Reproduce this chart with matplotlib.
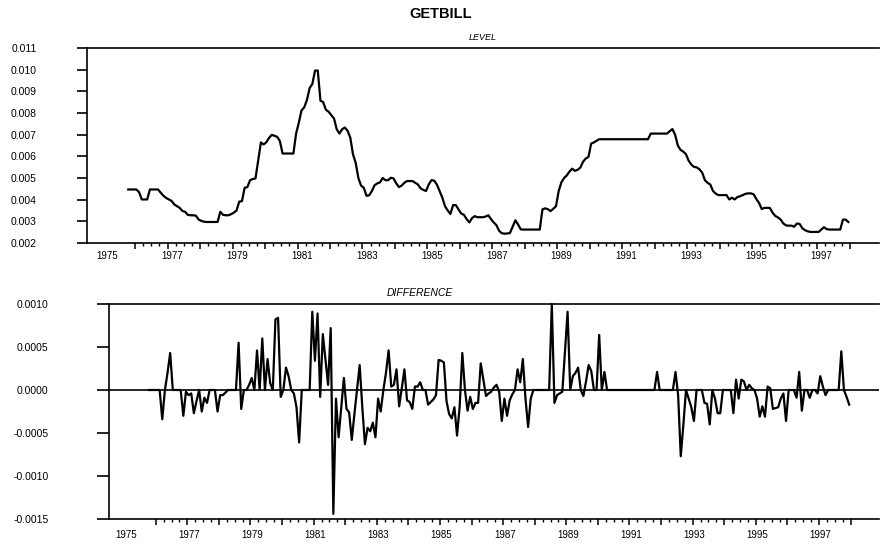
import numpy as np
import matplotlib
matplotlib.use("Agg")
import matplotlib.pyplot as plt
from matplotlib.ticker import FixedLocator, FormatStrFormatter, NullFormatter
from matplotlib.transforms import blended_transform_factory

plt.rcParams['font.family'] = ['Liberation Sans', 'DejaVu Sans']

# ---------------- data (monthly, first obs ~ late 1975) ----------------
start_year = 1975.79
level = [
    0.00447, 0.00447, 0.00447, 0.00447, 0.00435, 0.00401, 0.00401, 0.00401, 0.00447, 0.00447, 0.00447, 0.00447,
    0.00432, 0.00418, 0.00408, 0.00401, 0.00394, 0.00378, 0.00370, 0.00362, 0.00348, 0.00344, 0.00330, 0.00328,
    0.00328, 0.00326, 0.00308, 0.00302, 0.00298, 0.00297, 0.00297, 0.00297, 0.00297, 0.00297, 0.00344, 0.00330,
    0.00328, 0.00328, 0.00333, 0.00340, 0.00350, 0.00391, 0.00393, 0.00455, 0.00458, 0.00490, 0.00495, 0.00498,
    0.00580, 0.00664, 0.00655, 0.00665, 0.00685, 0.00699, 0.00695, 0.00690, 0.00671, 0.00613, 0.00613, 0.00613,
    0.00613, 0.00613, 0.00705, 0.00755, 0.00812, 0.00826, 0.00860, 0.00915, 0.00934, 0.00996, 0.00996, 0.00857,
    0.00850, 0.00815, 0.00806, 0.00790, 0.00775, 0.00725, 0.00705, 0.00725, 0.00733, 0.00718, 0.00687, 0.00610,
    0.00570, 0.00500, 0.00465, 0.00455, 0.00418, 0.00420, 0.00440, 0.00467, 0.00475, 0.00480, 0.00500, 0.00490,
    0.00490, 0.00501, 0.00498, 0.00475, 0.00458, 0.00465, 0.00478, 0.00486, 0.00486, 0.00486, 0.00478, 0.00470,
    0.00452, 0.00445, 0.00440, 0.00470, 0.00490, 0.00488, 0.00470, 0.00440, 0.00410, 0.00370, 0.00350, 0.00334,
    0.00375, 0.00375, 0.00355, 0.00336, 0.00330, 0.00310, 0.00295, 0.00315, 0.00324, 0.00319, 0.00319, 0.00319,
    0.00322, 0.00328, 0.00310, 0.00295, 0.00282, 0.00256, 0.00245, 0.00243, 0.00244, 0.00246, 0.00275, 0.00305,
    0.00285, 0.00263, 0.00262, 0.00262, 0.00262, 0.00262, 0.00262, 0.00262, 0.00262, 0.00355, 0.00360, 0.00356,
    0.00347, 0.00358, 0.00370, 0.00440, 0.00480, 0.00500, 0.00512, 0.00530, 0.00543, 0.00533, 0.00538, 0.00548,
    0.00575, 0.00590, 0.00597, 0.00659, 0.00664, 0.00672, 0.00679, 0.00679, 0.00679, 0.00679, 0.00679, 0.00679,
    0.00679, 0.00679, 0.00679, 0.00679, 0.00679, 0.00679, 0.00679, 0.00679, 0.00679, 0.00679, 0.00679, 0.00679,
    0.00679, 0.00705, 0.00705, 0.00705, 0.00705, 0.00705, 0.00705, 0.00705, 0.00716, 0.00726, 0.00700, 0.00650,
    0.00630, 0.00622, 0.00610, 0.00580, 0.00562, 0.00551, 0.00549, 0.00540, 0.00525, 0.00490, 0.00478, 0.00470,
    0.00440, 0.00428, 0.00421, 0.00421, 0.00421, 0.00421, 0.00401, 0.00409, 0.00401, 0.00412, 0.00416, 0.00421,
    0.00427, 0.00429, 0.00429, 0.00425, 0.00403, 0.00385, 0.00357, 0.00362, 0.00362, 0.00362, 0.00340, 0.00325,
    0.00318, 0.00308, 0.00290, 0.00281, 0.00280, 0.00280, 0.00275, 0.00290, 0.00288, 0.00268, 0.00259, 0.00254,
    0.00251, 0.00251, 0.00251, 0.00251, 0.00262, 0.00273, 0.00264, 0.00262, 0.00262, 0.00262, 0.00262, 0.00262,
    0.00308, 0.00308, 0.00297,
]

difference = [
    0.0, 0.0, 0.0, 0.0, 0.0, -0.00034, 0.0, 0.00020, 0.00043, 0.0, 0.0, 0.0,
    0.0, -0.00030, -0.00002, -0.00006, -0.00004, -0.00027, -0.00013, 0.0, -0.00025, -0.00009, -0.00015, 0.0,
    0.0, 0.0, -0.00025, -0.00006, -0.00006, -0.00003, 0.0, 0.0, 0.0, 0.0, 0.00055, -0.00022,
    0.0, 0.0, 0.00006, 0.00014, 0.0, 0.00046, 0.0, 0.00060, 0.0, 0.00036, 0.00008, 0.0,
    0.00082, 0.00084, -0.00008, 0.0, 0.00026, 0.00016, 0.0, -0.00004, -0.00020, -0.00061, 0.0, 0.0,
    0.0, 0.0, 0.00091, 0.00034, 0.00089, -0.00008, 0.00065, 0.00035, 0.00006, 0.00072, -0.00144, -0.00010,
    -0.00055, -0.00020, 0.00014, -0.00022, -0.00026, -0.00058, -0.00028, 0.0, 0.00029, -0.00020, -0.00063, -0.00044,
    -0.00048, -0.00038, -0.00055, -0.00010, -0.00025, 0.0, 0.00020, 0.00046, 0.00004, 0.00006, 0.00024, -0.00019,
    0.00002, 0.00024, -0.00012, -0.00014, -0.00022, 0.00004, 0.00004, 0.00009, 0.0, 0.0, -0.00017, -0.00014,
    -0.00011, -0.00006, 0.00035, 0.00034, 0.00032, -0.00013, -0.00028, -0.00033, -0.00020, -0.00053, -0.00019, 0.00043,
    0.0, -0.00024, -0.00008, -0.00022, -0.00015, -0.00015, 0.00031, 0.00012, -0.00007, -0.00004, -0.00002, 0.00003,
    0.00006, -0.00002, -0.00036, -0.00010, -0.00030, -0.00012, -0.00005, 0.0, 0.00024, 0.00009, 0.00036, -0.00010,
    -0.00043, -0.00010, 0.0, 0.0, 0.0, 0.0, 0.0, 0.0, 0.0, 0.00100, -0.00015, -0.00006,
    -0.00004, -0.00002, 0.00045, 0.00091, 0.0, 0.00016, 0.00020, 0.00026, 0.0, -0.00007, 0.00010, 0.00029,
    0.00022, 0.0, 0.0, 0.00064, 0.0, 0.00021, 0.0, 0.0, 0.0, 0.0, 0.0, 0.0,
    0.0, 0.0, 0.0, 0.0, 0.0, 0.0, 0.0, 0.0, 0.0, 0.0, 0.0, 0.0,
    0.0, 0.00021, 0.0, 0.0, 0.0, 0.0, 0.0, 0.0, 0.00021, -0.00006, -0.00077, -0.00040,
    0.0, -0.00010, -0.00020, -0.00036, 0.0, 0.0, 0.0, -0.00015, -0.00016, -0.00040, 0.0, -0.00010,
    -0.00027, -0.00027, 0.0, 0.0, 0.0, 0.0, -0.00027, 0.00012, -0.00010, 0.00012, 0.00010, 0.0,
    0.00006, 0.00002, 0.0, -0.00010, -0.00031, -0.00019, -0.00031, 0.00004, 0.00002, -0.00022, -0.00021, -0.00020,
    -0.00010, -0.00004, -0.00036, 0.0, 0.0, 0.0, -0.00009, 0.00021, -0.00024, 0.0, 0.0, -0.00009,
    0.0, 0.0, -0.00004, 0.00016, 0.00004, -0.00006, 0.0, 0.0, 0.0, 0.0, 0.0, 0.00045,
    0.0, -0.00008, -0.00017,
]

year_labels = ["1975", "1977", "1979", "1981", "1983", "1985",
               "1987", "1989", "1991", "1993", "1995", "1997"]
level_ticks = [0.002, 0.003, 0.004, 0.005, 0.006, 0.007, 0.008, 0.009, 0.010, 0.011]
diff_ticks = [-0.0015, -0.0010, -0.0005, 0.0000, 0.0005, 0.0010]

t_level = start_year + np.arange(len(level)) / 12.0
t_diff = start_year + np.arange(len(difference)) / 12.0

# ---------------- figure ----------------
W, H = 882, 545
fig = plt.figure(figsize=(W / 100, H / 100), dpi=100)
fig.patch.set_facecolor('white')

ax1 = fig.add_axes([87 / W, 1 - 243 / H, (879 - 87) / W, 195 / H])
ax2 = fig.add_axes([109 / W, 1 - 519 / H, (879 - 109) / W, 215 / H])

xmin, xmax = 1974.52, 1998.9
major_years = list(range(1976, 1999))
minor_q = [y + q / 4 for y in range(1976, 1998) for q in (1, 2, 3)]


def style(ax, yticks, fmt, ytick_len, ypad, label_offset, label_y):
    ax.set_xlim(xmin, xmax)
    ax.set_ylim(yticks[0], yticks[-1])
    for s in ('top', 'bottom', 'left'):
        ax.spines[s].set_linewidth(1.2)
        ax.spines[s].set_color('black')
    ax.spines['right'].set_visible(False)
    ax.yaxis.set_major_locator(FixedLocator(yticks))
    ax.yaxis.set_major_formatter(FormatStrFormatter(fmt))
    ax.tick_params(axis='y', which='major', direction='out', length=ytick_len,
                   width=1.2, pad=ypad, labelsize=7.5)
    ax.xaxis.set_major_locator(FixedLocator(major_years))
    ax.xaxis.set_minor_locator(FixedLocator(minor_q))
    ax.xaxis.set_major_formatter(NullFormatter())
    ax.tick_params(axis='x', which='major', direction='out', length=4.0, width=1.1)
    ax.tick_params(axis='x', which='minor', direction='out', length=2.0, width=1.0)
    tr = blended_transform_factory(ax.transData, ax.transAxes)
    for lab in year_labels:
        ax.text(int(lab) + label_offset, label_y, lab, transform=tr,
                ha='center', va='center', fontsize=7)


# Level panel
ax1.plot(t_level, level, color='black', lw=1.6, solid_joinstyle='round')
style(ax1, level_ticks, '%.3f', 7.2, 29, 0.13, -13 / 195)

# Difference panel
ax2.axhline(0, color='black', lw=1.2)
ax2.plot(t_diff, difference, color='black', lw=1.6, solid_joinstyle='round', clip_on=False)
style(ax2, diff_ticks, '%.4f', 8.6, 35, 0.05, -16 / 215)

# Titles
fig.text(441 / W, 1 - 14 / H, 'GETBILL', ha='center', va='center',
         fontsize=10.5, fontweight='bold')
fig.text(483 / W, 1 - 38 / H, 'LEVEL', ha='center', va='center',
         fontsize=6.5, style='italic')
fig.text(419.5 / W, 1 - 293 / H, 'DIFFERENCE', ha='center', va='center',
         fontsize=7.5, style='italic')

fig.savefig('out.png', dpi=100, facecolor='white')
